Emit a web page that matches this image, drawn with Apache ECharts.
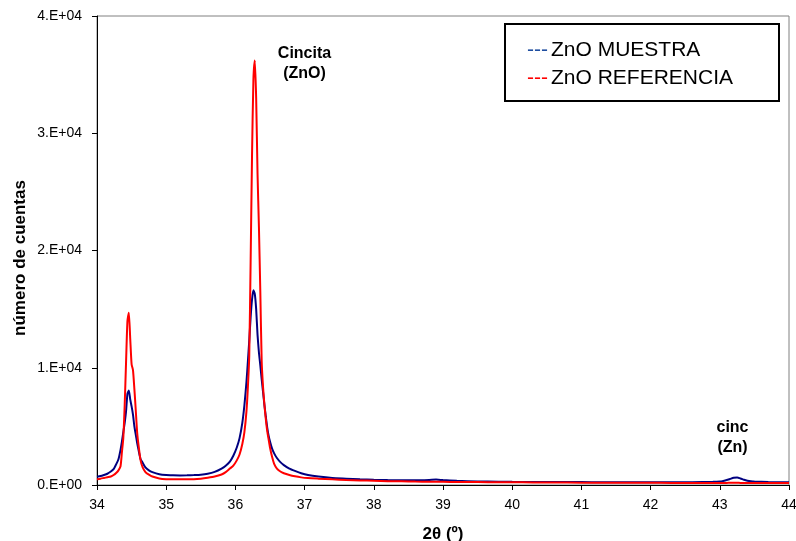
<!DOCTYPE html>
<html>
<head>
<meta charset="utf-8">
<script src="https://cdn.jsdelivr.net/npm/echarts@6/dist/echarts.min.js"></script>
<style>
html,body{margin:0;padding:0;background:#fff;overflow:hidden;}
#chart{width:796px;height:541px;}
</style>
</head>
<body>
<div id="chart"></div>
<script>
// 2θ positions (degrees)
const twoTheta = [
  34.00, 34.05, 34.10, 34.15, 34.20, 34.24, 34.28, 34.31, 34.34, 34.36,
  34.38, 34.40, 34.42, 34.44, 34.46, 34.48, 34.50, 34.52, 34.54, 34.56,
  34.58, 34.60, 34.63, 34.66, 34.70, 34.75, 34.80, 34.90, 35.00, 35.10,
  35.20, 35.30, 35.40, 35.50, 35.60, 35.70, 35.80, 35.86, 35.92, 35.97,
  36.02, 36.06, 36.10, 36.13, 36.16, 36.18, 36.20, 36.22, 36.24, 36.26,
  36.28, 36.30, 36.32, 36.34, 36.36, 36.38, 36.40, 36.42, 36.44, 36.46,
  36.48, 36.50, 36.53, 36.56, 36.60, 36.65, 36.70, 36.78, 36.86, 36.95,
  37.05, 37.20, 37.40, 37.60, 37.80, 38.00, 38.20, 38.40, 38.60, 38.80,
  38.90, 39.00, 39.20, 39.50, 39.80, 40.00, 40.30, 40.60, 41.00, 41.30,
  41.60, 42.00, 42.30, 42.60, 42.90, 43.00, 43.05, 43.10, 43.15, 43.20,
  43.25, 43.30, 43.35, 43.40, 43.45, 43.50, 43.70, 44.00
];
// ZnO MUESTRA counts
const muestra = [
  710, 760, 850, 960, 1150, 1350, 1800, 2200, 3000, 3700,
  4500, 5300, 6300, 7800, 8050, 7300, 6700, 6000, 5000, 4300,
  3600, 3000, 2200, 1900, 1500, 1250, 1100, 920, 850, 830,
  820, 830, 850, 880, 960, 1120, 1400, 1650, 2000, 2500,
  3200, 4000, 5300, 6800, 8800, 10500, 12300, 14300, 15800, 16600,
  16300, 15000, 12800, 11300, 10200, 9000, 7900, 6800, 5800, 4900,
  4200, 3700, 3100, 2700, 2300, 1950, 1700, 1400, 1200, 1000,
  850, 720, 600, 540, 480, 440, 420, 410, 400, 430,
  460, 420, 360, 300, 280, 270, 260, 250, 250, 240,
  240, 240, 230, 240, 270, 300, 350, 420, 520, 620,
  640, 560, 450, 370, 320, 290, 250, 230
];
// ZnO REFERENCIA counts
const referencia = [
  490, 540, 600, 660, 720, 850, 1050, 1250, 1600, 2800,
  4000, 6800, 10500, 14000, 14700, 12500, 10300, 9800, 8200, 6400,
  4500, 3400, 2100, 1500, 1100, 880, 720, 560, 500, 490,
  480, 480, 490, 540, 620, 720, 900, 1100, 1400, 1650,
  2100, 2600, 3500, 4500, 6300, 8300, 11000, 19000, 28000, 34500,
  36200, 33000, 26500, 22000, 16500, 10500, 8300, 6800, 5600, 4600,
  3900, 3200, 2400, 1800, 1400, 1150, 1000, 850, 740, 650,
  590, 540, 480, 430, 390, 360, 330, 310, 290, 280,
  280, 270, 260, 250, 240, 230, 220, 210, 200, 200,
  190, 190, 180, 180, 180, 180, 180, 180, 190, 190,
  190, 180, 180, 170, 170, 170, 170, 160
];
const seriesNames = ['ZnO MUESTRA', 'ZnO REFERENCIA'];
const yTickLabels = ['0.E+00', '1.E+04', '2.E+04', '3.E+04', '4.E+04'];
const xTickLabels = ['34','35','36','37','38','39','40','41','42','43','44'];

const FONT = '"Liberation Sans", Arial, sans-serif';
const chart = echarts.init(document.getElementById('chart'), null, {renderer: 'canvas'});

chart.setOption({
  animation: false,
  backgroundColor: '#fff',
  grid: {
    left: 97, right: 7, top: 16, bottom: 56,
    containLabel: false, outerBoundsMode: 'none',
    show: true, borderColor: '#808080', borderWidth: 1, backgroundColor: 'transparent'
  },
  legend: {
    orient: 'vertical',
    left: 517, top: 33,
    icon: 'none',
    itemWidth: 0, itemHeight: 24, itemGap: 4,
    selectedMode: false,
    data: seriesNames,
    formatter: function (name) {
      return (name === seriesNames[0] ? '{m|---}' : '{r|---}') + name;
    },
    textStyle: {
      fontFamily: FONT, fontSize: 21, color: '#000', lineHeight: 24,
      rich: {
        m: {fontFamily: FONT, fontSize: 21, color: '#1f4ea0', lineHeight: 24, padding: [0, 3, 0, 0]},
        r: {fontFamily: FONT, fontSize: 21, color: '#ff0000', lineHeight: 24, padding: [0, 3, 0, 0]}
      }
    }
  },
  xAxis: {
    type: 'value', min: 34, max: 44, interval: 1,
    name: '2θ (º)', nameLocation: 'middle', nameGap: 41,
    nameTextStyle: {fontFamily: FONT, fontSize: 17, fontWeight: 'bold', color: '#000'},
    axisLine: {show: true, onZero: false, lineStyle: {color: '#000', width: 1}},
    axisTick: {show: true, inside: false, length: 5, lineStyle: {color: '#000'}},
    axisLabel: {
      fontFamily: FONT, fontSize: 14, color: '#000', margin: 13,
      formatter: function (v) { return xTickLabels[Math.round(v - 34)]; }
    },
    splitLine: {show: false}
  },
  yAxis: {
    type: 'value', min: 0, max: 40000, interval: 10000,
    axisLine: {show: true, lineStyle: {color: '#000', width: 1}},
    axisTick: {show: true, inside: false, length: 5, lineStyle: {color: '#000'}},
    axisLabel: {
      fontFamily: FONT, fontSize: 14, color: '#000', margin: 15,
      formatter: function (v) { return yTickLabels[Math.round(v / 10000)]; }
    },
    splitLine: {show: false}
  },
  graphic: [
    {
      type: 'text', x: 20, y: 258, rotation: Math.PI / 2,
      style: {text: 'número de cuentas', fontFamily: FONT, fontSize: 17, fontWeight: 'bold',
        fill: '#000', textAlign: 'center', textVerticalAlign: 'middle'}
    },
    {
      type: 'rect', shape: {x: 505, y: 24, width: 274, height: 77},
      style: {fill: 'none', stroke: '#000', lineWidth: 2}, z: 10
    },
    {
      type: 'text', x: 304.5, y: 64,
      style: {text: 'Cincita\n(ZnO)', fontFamily: FONT, fontSize: 16, fontWeight: 'bold',
        fill: '#000', textAlign: 'center', textVerticalAlign: 'middle', lineHeight: 20}
    },
    {
      type: 'text', x: 732.5, y: 438,
      style: {text: 'cinc\n(Zn)', fontFamily: FONT, fontSize: 16, fontWeight: 'bold',
        fill: '#000', textAlign: 'center', textVerticalAlign: 'middle', lineHeight: 20}
    }
  ],
  series: [
    {
      name: seriesNames[0], type: 'line', showSymbol: false, smooth: 0.2,
      lineStyle: {color: '#000080', width: 2}, itemStyle: {color: '#000080'},
      data: twoTheta.map((x, i) => [x, muestra[i]])
    },
    {
      name: seriesNames[1], type: 'line', showSymbol: false, smooth: 0.2,
      lineStyle: {color: '#ff0000', width: 2}, itemStyle: {color: '#ff0000'},
      data: twoTheta.map((x, i) => [x, referencia[i]])
    }
  ]
});
</script>
</body>
</html>
